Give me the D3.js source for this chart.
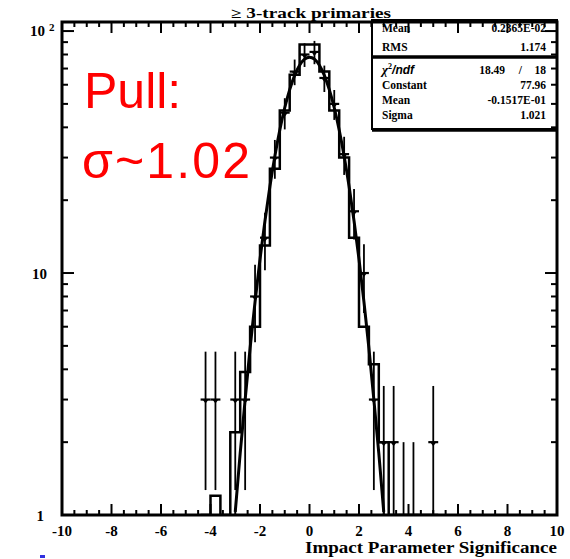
<!DOCTYPE html>
<html>
<head>
<meta charset="utf-8">
<script src="https://cdn.jsdelivr.net/npm/d3@7"></script>
<style>
  html, body { margin: 0; padding: 0; background: #fff; }
  svg { display: block; }
</style>
</head>
<body>
<svg id="chart" width="570" height="559"></svg>
<script>
// ---------------- data ----------------
const binCenters   = [-4.2, -3.8, -3.4, -3.0, -2.6, -2.2, -1.8, -1.4, -1.0, -0.6, -0.2, 0.2, 0.6, 1.0, 1.4, 1.8, 2.2, 2.6, 3.0, 3.4, 3.8, 4.2, 4.6, 5.0];
const dataCounts   = [3, 3, 0, 3, 3, 8, 14, 30, 46, 68, 80, 82, 64, 50, 31, 18, 10, 3, 2, 2, 1, 1, 0, 2];
const histValues   = [0, 1.2, 0, 2.2, 3.9, 6.0, 13, 27, 47, 66, 88, 88, 68, 47, 30, 14, 6.0, 4.2, 2.0, 0.6, 0, 0, 0, 0];
const binWidth = 0.4;

const fitX = [-3.0,-2.8,-2.6,-2.4,-2.2,-2.0,-1.8,-1.6,-1.4,-1.2,-1.0,-0.8,-0.6,-0.4,-0.2,0.0,0.2,0.4,0.6,0.8,1.0,1.2,1.4,1.6,1.8,2.0,2.2,2.4,2.6,2.8,3.0];
const fitY = [1.03,1.8,3.0,4.9,7.6,11.4,16.4,22.8,30.4,39.0,48.2,57.3,65.6,72.2,76.5,78.0,76.5,72.2,65.6,57.3,48.2,39.0,30.4,22.8,16.4,11.4,7.6,4.9,3.0,1.8,1.03];

const xTicks = [-10, -8, -6, -4, -2, 0, 2, 4, 6, 8, 10];
const yMajor = [1, 10, 100];
const yMinor = [2, 3, 4, 5, 6, 7, 8, 9, 20, 30, 40, 50, 60, 70, 80, 90];

const titleText = "\u2265 3-track primaries";
const xTitle = "Impact Parameter Significance";
const statsTop = [["Mean", "0.2365E-02"], ["RMS", "1.174"]];
const statsFit = [["Constant", "77.96"], ["Mean", "-0.1517E-01"], ["Sigma", "1.021"]];
const chi2 = ["18.49", "/", "18"];
const redLines = ["Pull:", "\u03c3~1.02"];

// ---------------- layout ----------------
const L = 62, R = 557, T = 22, B = 515;
const svg = d3.select("#chart");
const x = d3.scaleLinear().domain([-10, 10]).range([L, R]);
const y = d3.scaleLog().domain([1, 109]).range([B, T]).clamp(true);
const serif = "'Liberation Serif', 'DejaVu Serif', serif";

svg.append("rect").attr("width", 570).attr("height", 559).attr("fill", "#fff");

svg.append("clipPath").attr("id", "plotclip")
  .append("rect").attr("x", L).attr("y", T).attr("width", R - L).attr("height", B - T);

const plot = svg.append("g").attr("clip-path", "url(#plotclip)");

// histogram step
const safe = v => Math.max(v, 0.5);
let pathD = "";
binCenters.forEach((c, i) => {
  const x0 = x(c - binWidth / 2), x1 = x(c + binWidth / 2), yy = y(safe(histValues[i]));
  pathD += (i === 0 ? `M${x0},${B}` : "") + `L${x0},${yy}L${x1},${yy}`;
});
pathD += `L${x(binCenters[binCenters.length - 1] + binWidth / 2)},${B}`;
plot.append("path").attr("d", pathD).attr("fill", "none").attr("stroke", "#000").attr("stroke-width", 2.5);

// fit curve
const fitLine = d3.line().x(d => x(d[0])).y(d => y(d[1])).curve(d3.curveMonotoneX);
plot.append("path").datum(fitX.map((v, i) => [v, fitY[i]]))
  .attr("d", fitLine).attr("fill", "none").attr("stroke", "#000").attr("stroke-width", 3);

// data points with error bars
binCenters.forEach((c, i) => {
  const n = dataCounts[i];
  if (n <= 0) return;
  const e = Math.sqrt(n);
  const g = plot.append("g");
  g.append("line").attr("x1", x(c)).attr("x2", x(c))
    .attr("y1", y(n + e)).attr("y2", y(Math.max(n - e, 0.5)))
    .attr("stroke", "#000").attr("stroke-width", 1.8);
  g.append("line").attr("x1", x(c - binWidth / 2)).attr("x2", x(c + binWidth / 2))
    .attr("y1", y(n)).attr("y2", y(n)).attr("stroke", "#000").attr("stroke-width", 2.2);
  const cx = x(c), cy = y(n);
  g.append("path").attr("d", `M${cx - 3},${cy}L${cx + 3},${cy}L${cx},${cy + 4}Z`).attr("fill", "#000");
});

// ---------------- stats box ----------------
const bx0 = 372, bx1 = 557, by0 = 20, bsep = 57, by1 = 129;
svg.append("rect").attr("x", bx0).attr("y", by0).attr("width", bx1 - bx0).attr("height", by1 - by0)
  .attr("fill", "#fff").attr("stroke", "#000").attr("stroke-width", 2);
svg.append("line").attr("x1", bx0).attr("x2", bx1).attr("y1", bsep).attr("y2", bsep)
  .attr("stroke", "#000").attr("stroke-width", 3.5);
svg.append("line").attr("x1", bx0).attr("x2", bx1).attr("y1", by1 + 1).attr("y2", by1 + 1)
  .attr("stroke", "#000").attr("stroke-width", 3.5);

const statFont = { "font-family": serif, "font-weight": "bold", "font-size": "11.5px" };
function statRow(label, value, cy) {
  const t1 = svg.append("text").attr("x", 382).attr("y", cy + 4).text(label);
  const t2 = svg.append("text").attr("x", 546).attr("y", cy + 4).attr("text-anchor", "end").text(value);
  [t1, t2].forEach(t => Object.entries(statFont).forEach(([k, v]) => t.attr(k, v)));
}
statRow(statsTop[0][0], statsTop[0][1], 28);
statRow(statsTop[1][0], statsTop[1][1], 47);
// chi2 row
const chiT = svg.append("text").attr("x", 382).attr("y", 74)
  .attr("font-family", serif).attr("font-weight", "bold").attr("font-size", "13px");
chiT.append("tspan").attr("font-style", "italic").text("\u03c7");
chiT.append("tspan").attr("dy", -5).attr("font-size", "8px").text("2");
chiT.append("tspan").attr("dy", 5).attr("font-family", "'Liberation Sans', sans-serif").attr("font-style", "italic").attr("font-size", "12px").text("/ndf");
[[505, chi2[0]], [522, chi2[1]], [546, chi2[2]]].forEach(([xx, s]) => {
  svg.append("text").attr("x", xx).attr("y", 74).attr("text-anchor", "end")
    .attr("font-family", serif).attr("font-weight", "bold").attr("font-size", "11.5px").text(s);
});
statRow(statsFit[0][0], statsFit[0][1], 85);
statRow(statsFit[1][0], statsFit[1][1], 100);
statRow(statsFit[2][0], statsFit[2][1], 115);

// ---------------- frame & ticks ----------------
const axes = svg.append("g").attr("stroke", "#000");
d3.range(-10, 10.001, 0.5).forEach(v => {
  const major = Math.abs(v % 2) < 1e-6;
  const len = major ? 11 : 5;
  axes.append("line").attr("x1", x(v)).attr("x2", x(v)).attr("y1", B).attr("y2", B - len).attr("stroke-width", 2);
  axes.append("line").attr("x1", x(v)).attr("x2", x(v)).attr("y1", T).attr("y2", T + len).attr("stroke-width", 2);
});
yMajor.concat(yMinor).forEach(v => {
  const major = yMajor.includes(v);
  const len = major ? 12 : 6;
  axes.append("line").attr("x1", L).attr("x2", L + len).attr("y1", y(v)).attr("y2", y(v)).attr("stroke-width", 2);
  axes.append("line").attr("x1", R).attr("x2", R - len).attr("y1", y(v)).attr("y2", y(v)).attr("stroke-width", 2);
});
axes.append("rect").attr("x", L).attr("y", T).attr("width", R - L).attr("height", B - T)
  .attr("fill", "none").attr("stroke-width", 3);

// x tick labels
xTicks.forEach(v => {
  svg.append("text").attr("x", x(v)).attr("y", 536).attr("text-anchor", "middle")
    .attr("font-family", serif).attr("font-weight", "bold").attr("font-size", "15px").text(v);
});
// y tick labels
svg.append("text").attr("x", 44).attr("y", 521).attr("text-anchor", "end")
  .attr("font-family", serif).attr("font-weight", "bold").attr("font-size", "15px").text("1");
svg.append("text").attr("x", 47).attr("y", y(10) + 6).attr("text-anchor", "end")
  .attr("font-family", serif).attr("font-weight", "bold").attr("font-size", "15px").text("10");
const t100 = svg.append("text").attr("x", 30).attr("y", y(100) + 5)
  .attr("font-family", serif).attr("font-weight", "bold").attr("font-size", "15px");
t100.append("tspan").text("10");
t100.append("tspan").attr("dx", 4).attr("dy", -5).attr("font-size", "11px").text("2");

// title
svg.append("text").attr("x", 311).attr("y", 18).attr("text-anchor", "middle")
  .attr("font-family", serif).attr("font-weight", "bold").attr("font-size", "14px")
  .attr("textLength", 160).attr("lengthAdjust", "spacingAndGlyphs").text(titleText);

// x axis title
svg.append("text").attr("x", 557).attr("y", 553).attr("text-anchor", "end")
  .attr("font-family", serif).attr("font-weight", "bold").attr("font-size", "17px")
  .attr("textLength", 252).attr("lengthAdjust", "spacingAndGlyphs").text(xTitle);

// red annotation
svg.append("text").attr("x", 84).attr("y", 108).attr("fill", "#ff0000")
  .attr("font-family", "'Liberation Sans', Arial, sans-serif").attr("font-size", "50px").text(redLines[0]);
svg.append("text").attr("x", 82).attr("y", 178).attr("fill", "#ff0000")
  .attr("font-family", "'Liberation Sans', Arial, sans-serif").attr("font-size", "50px")
  .attr("textLength", 168).attr("lengthAdjust", "spacing").text(redLines[1]);

// small blue mark
svg.append("rect").attr("x", 40).attr("y", 555).attr("width", 5).attr("height", 3).attr("fill", "#3030e0");
</script>
</body>
</html>
